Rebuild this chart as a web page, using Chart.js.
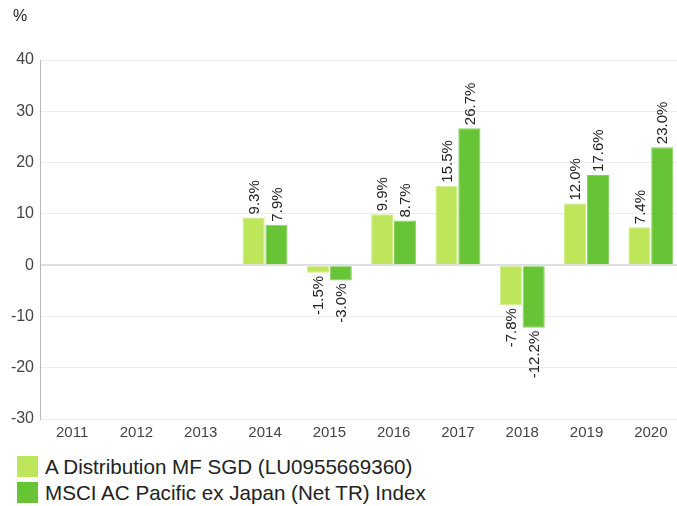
<!DOCTYPE html>
<html>
<head>
<meta charset="utf-8">
<script src="https://cdn.jsdelivr.net/npm/chart.js@4/dist/chart.umd.min.js"></script>
<style>
  body { margin: 0; width: 677px; height: 506px; overflow: hidden; background: #fff; font-family: "Liberation Sans", Arial, sans-serif; position: relative; }
  #wrap { position: absolute; left: 0; top: 0; width: 683px; height: 441px; }
  #unit { position: absolute; left: 13px; top: 7px; font-size: 16px; color: #222; }
  #legend { position: absolute; left: 17px; top: 456px; }
  .item { height: 26px; display: flex; align-items: flex-start; }
  .box { width: 21px; height: 21px; margin-right: 7px; }
  .txt { font-size: 20.6px; color: #222; line-height: 21px; white-space: nowrap; }
</style>
</head>
<body>
<div id="wrap"><canvas id="myChart"></canvas></div>
<div id="unit">%</div>
<div id="legend"></div>
<script>
const years = ['2011', '2012', '2013', '2014', '2015', '2016', '2017', '2018', '2019', '2020'];
const fundValues = [null, null, null, 9.3, -1.5, 9.9, 15.5, -7.8, 12.0, 7.4];
const indexValues = [null, null, null, 7.9, -3.0, 8.7, 26.7, -12.2, 17.6, 23.0];
const seriesNames = ['A Distribution MF SGD (LU0955669360)', 'MSCI AC Pacific ex Japan (Net TR) Index'];
const yTicks = [40, 30, 20, 10, 0, -10, -20, -30];

const fillColors = ['#bde65a', '#66c435'];
const edgeColors = ['#cdee86', '#86d25e'];

const barLabels = {
    id: 'barLabels',
    afterDatasetsDraw(chart) {
        const ctx = chart.ctx;
        ctx.save();
        ctx.font = '15px "Liberation Sans", Arial, sans-serif';
        ctx.fillStyle = '#222';
        ctx.textBaseline = 'middle';
        chart.data.datasets.forEach((set, i) => {
            const meta = chart.getDatasetMeta(i);
            meta.data.forEach((bar, j) => {
                const v = set.data[j];
                if (v === null) return;
                ctx.save();
                if (v >= 0) {
                    ctx.translate(bar.x, bar.y - 3);
                    ctx.textAlign = 'left';
                } else {
                    ctx.translate(bar.x, bar.y + 3);
                    ctx.textAlign = 'right';
                }
                ctx.rotate(-Math.PI / 2);
                ctx.fillText(v.toFixed(1) + '%', 0, 1);
                ctx.restore();
            });
        });
        ctx.restore();
    }
};

function initChart(target) {
    const data = {
        labels: years,
        datasets: [{
            label: seriesNames[0],
            backgroundColor: fillColors[0],
            borderColor: edgeColors[0],
            borderWidth: 1,
            data: fundValues
        }, {
            label: seriesNames[1],
            backgroundColor: fillColors[1],
            borderColor: edgeColors[1],
            borderWidth: 1,
            data: indexValues
        }]
    };

    const config = {
        type: 'bar',
        data: data,
        options: {
            responsive: true,
            maintainAspectRatio: false,
            animation: false,
            datasets: { bar: { categoryPercentage: 0.71, barPercentage: 0.97 } },
            layout: { padding: { top: 60, left: 0, right: 0, bottom: 0 } },
            plugins: {
                legend: { display: false },
                tooltip: { enabled: false }
            },
            scales: {
                x: {
                    grid: { display: false, drawTicks: false },
                    border: { display: false },
                    ticks: { color: '#444', font: { size: 15, family: '"Liberation Sans", Arial, sans-serif' }, padding: 5, maxRotation: 0 },
                    afterFit: (scale) => { scale.height = 22; }
                },
                y: {
                    min: -30,
                    max: 40,
                    afterBuildTicks: (scale) => { scale.ticks = yTicks.map((v) => ({ value: v })); },
                    grid: {
                        drawTicks: false,
                        color: (c) => c.tick && c.tick.value === 0 ? '#e0e0e0' : '#ececec',
                        lineWidth: (c) => c.tick && c.tick.value === 0 ? 2 : 1
                    },
                    border: { display: true, color: '#b8b8b8' },
                    ticks: { color: '#444', font: { size: 16, family: '"Liberation Sans", Arial, sans-serif' }, padding: 6 },
                    afterFit: (scale) => { scale.width = 40; }
                }
            }
        },
        plugins: [barLabels]
    };

    return new Chart(target, config);
}

function buildLegend() {
    const el = document.querySelector('#legend');
    seriesNames.forEach((name, i) => {
        const row = document.createElement('div');
        row.className = 'item';
        row.innerHTML = '<div class="box" style="background:' + fillColors[i] + '"></div><div class="txt">' + name + '</div>';
        el.appendChild(row);
    });
}

buildLegend();
const chart = initChart(document.querySelector('#myChart'));
</script>
</body>
</html>
